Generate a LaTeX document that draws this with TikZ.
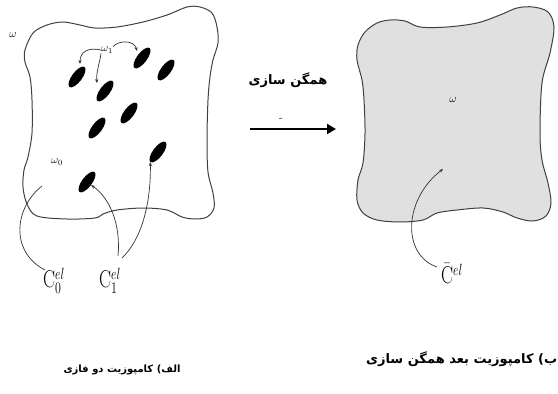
\documentclass[tikz,border=0pt]{standalone}
\usepackage{fontspec}
\usepackage{graphicx}
\usetikzlibrary{arrows.meta,shapes.geometric}
\TeXXeTstate=1
\newfontfamily\fafont[Script=Arabic]{DejaVu Sans}
\newcommand{\bigC}[1]{\scalebox{1}[1.35]{\fontsize{18}{18}\selectfont$#1$}}
\tikzset{
  outline/.style={line width=1pt, draw=black!75},
  blob/.style={ellipse, fill=black, minimum width=25pt, minimum height=10pt, inner sep=0pt, rotate=53},
  conn/.style={line width=0.7pt, draw=black!80},
  tipped/.style={-{Stealth[length=4pt,width=3.2pt]}},
  lab/.style={inner sep=0pt, font=\fontsize{11}{12}\selectfont},
  big/.style={inner sep=0pt},
  captext/.style={inner sep=0pt, font=\fafont\bfseries\fontsize{10}{12}\selectfont}
}
\begin{document}
\begin{tikzpicture}[x=1pt,y=-1pt]
\useasboundingbox (0,0) rectangle (558,394);
% left composite outline
\draw[outline] plot[smooth cycle, tension=0.55] coordinates {
 (25,50) (33,33) (47,25) (63,22) (80,25) (95,28) (117,27) (143,22) (167,15)
 (187,7) (200,7) (212,13) (217,27) (218,43) (213,60) (210,77) (208,100)
 (207,140) (208,172) (213,193) (214,208) (207,217) (195,219) (182,217)
 (167,210) (143,208) (117,210) (103,214) (95,218) (67,219) (37,216)
 (27,204) (23,187) (24,170) (28,157) (32,133) (32,100) (30,77) (25,62)};
% inclusions
\node[blob] (e1) at (77,77) {};
\node[blob] (e2) at (142,58) {};
\node[blob] (e3) at (166,70) {};
\node[blob] (e4) at (105,91) {};
\node[blob] (e5) at (129,113) {};
\node[blob] (e6) at (97,128) {};
\node[blob] (e7) at (158,152) {};
\node[blob] (e8) at (87,182) {};
% labels
\node[lab] (w) at (13,35) {$\omega$};
\node[lab] (w1) at (107,50) {$\omega_1$};
\node[lab] (w0) at (57,162) {$\omega_0$};
\node[big] (c0) at (54,281) {\bigC{\mathrm{C}_0^{el}}};
\node[big] (c1) at (110,281) {\bigC{\mathrm{C}_1^{el}}};
% arrow tip coordinates
\coordinate (t1) at (80,64);
\coordinate (t4) at (97,83);
\coordinate (t2) at (137,51);
\coordinate (m0) at (42,186);
% connectors from omega_1
\draw[conn,tipped] (w1.west) .. controls (88,47) and (80,52) .. (t1);
\draw[conn,tipped] (w1.south west) .. controls (100,62) and (96,72) .. (t4);
\draw[conn,tipped] (w1.north east) .. controls (119,40) and (134,40) .. (t2);
% connectors from C labels
\draw[conn] (45,270) .. controls (10,252) and (14,208) .. (m0);
\draw[conn,tipped] (118,256) .. controls (121,225) and (110,198) .. (e8.south);
\draw[conn,tipped] (122,258) .. controls (141,240) and (151,205) .. (e7.west);
% homogenisation arrow
\node[captext, font=\fafont\bfseries\fontsize{13}{15}\selectfont] (hom) at (288,80) {\beginR همگن سازی\endR};
\draw[line width=0.6pt, black!60] (279,118) -- (282,118);
\coordinate (aL) at (250,129);
\coordinate (aR) at (336,129);
\draw[line width=2.8pt, -{Triangle[length=9pt,width=10pt]}] (aL) -- (aR);
% right homogenised body
\draw[outline, fill=black!12] plot[smooth cycle, tension=0.55] coordinates {
 (358,45) (365,32) (377,23) (390,20) (405,21) (420,27) (447,27) (477,23)
 (500,15) (517,8) (533,7) (548,12) (554,27) (550,53) (542,83) (540,133)
 (542,160) (548,183) (551,203) (546,216) (533,221) (517,218) (503,212)
 (483,208) (457,210) (437,213) (423,220) (400,222) (377,220) (363,213)
 (357,200) (358,180) (363,163) (365,133) (364,100) (362,80) (357,60)};
\node[lab] (wr) at (453,100) {$\omega$};
\node[big] (cb) at (452,274) {\bigC{\bar{\mathrm{C}}^{el}}};
\coordinate (tr) at (443,169);
\draw[conn,tipped] (437,267) .. controls (402,255) and (403,200) .. (tr);
% captions
\node[captext] (capa) at (122,370) {\beginR الف) کامپوزیت دو فازی\endR};
\node[captext, font=\fafont\bfseries\fontsize{13}{15}\selectfont, anchor=west] (capb) at (366,359) {\beginR ب) کامپوزیت بعد همگن سازی\endR};
\end{tikzpicture}
\end{document}
